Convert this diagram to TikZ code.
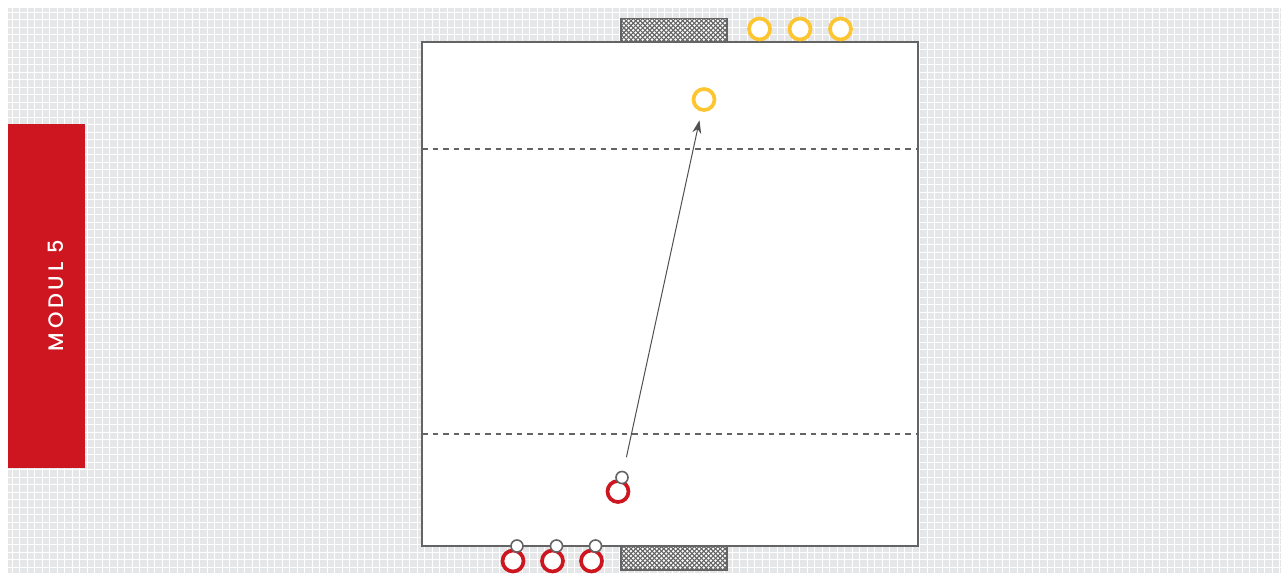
\documentclass[tikz,border=0pt]{standalone}
\usepackage{fontspec}
\setsansfont{Poppins}
\newfontfamily\bannerfont{Poppins Medium}
\usepackage{xcolor}
\usetikzlibrary{arrows.meta}

\definecolor{modred}{RGB}{205,22,31}
\definecolor{gridgray}{RGB}{229,230,232}
\definecolor{keepyellow}{RGB}{253,197,48}
\definecolor{courtgray}{RGB}{100,100,100}
\definecolor{passgray}{RGB}{80,80,80}

\begin{document}
\begin{tikzpicture}[x=1pt,y=-1pt,
    gridline/.style={white,line width=1pt},
    court/.style={draw=courtgray,fill=white,line width=1.5pt},
    zone/.style={courtgray,line width=1.2pt,dash pattern=on 5.5pt off 5pt},
    goalbox/.style={draw=courtgray,line width=1.6pt},
    netline/.style={courtgray,line width=1.1pt},
    keeper/.style={circle,draw=keepyellow,fill=white,line width=3.7pt,minimum size=21pt,inner sep=0pt},
    player/.style={circle,draw=modred,fill=white,line width=3.7pt,minimum size=21pt,inner sep=0pt},
    ball/.style={circle,draw=courtgray,fill=white,line width=1.6pt,minimum size=12pt,inner sep=0pt},
    pass/.style={passgray,line width=1pt,-{Stealth[length=13pt,width=9pt]}},
  ]
  \useasboundingbox (0,0) rectangle (1281,573);

  % background grid
  \fill[gridgray] (8,8) rectangle (1281,573);
  \foreach \x in {12,19.5,...,1281} \draw[gridline] (\x,8) -- (\x,573);
  \foreach \y in {12,19.5,...,573} \draw[gridline] (8,\y) -- (1281,\y);

  % module banner
  \fill[modred] (8,124) rectangle (85,468);
  \node[rotate=90,anchor=base,white,inner sep=0pt,
        font=\bannerfont\fontsize{21}{21}\selectfont\addfontfeatures{LetterSpace=18}]
       (title) at (63,295.5) {MODUL 5};

  % court and zones
  \draw[court] (422,42) rectangle (918,546);
  \draw[zone] (422,149) -- (918,149);
  \draw[zone] (422,434) -- (918,434);

  % goals (net)
  \foreach \gy in {18.5,546.5} {
    \fill[white] (621,\gy) rectangle (727,\gy+23.5);
    \begin{scope}
      \clip (621,\gy) rectangle (727,\gy+23.5);
      \foreach \k in {-30,-25.3,...,140} {
        \draw[netline] (621+\k,\gy) -- ++(24,24);
        \draw[netline] (621+\k,\gy) -- ++(-24,24);
      }
    \end{scope}
    \draw[goalbox] (621,\gy) rectangle (727,\gy+23.5);
  }

  % keepers waiting at the top
  \foreach \kx/\kn in {759.5/k1, 800/k2, 840.5/k3}
    \node[keeper] (\kn) at (\kx,29) {};
  \node[keeper] (gk) at (704,99.5) {};

  % shooter with ball
  \node[player] (sh) at (618,491.5) {};
  \node[ball] (sb) at (622,477.5) {};

  % queue at the bottom
  \foreach \px/\pn in {513/q1, 552.5/q2, 591.5/q3} {
    \node[player] (\pn) at (\px,561) {};
    \node[ball] (\pn b) at (\px+4,546) {};
  }

  % shot
  \draw[pass,shorten <=14pt,shorten >=9pt] (sb) -- (gk);
\end{tikzpicture}
\end{document}
